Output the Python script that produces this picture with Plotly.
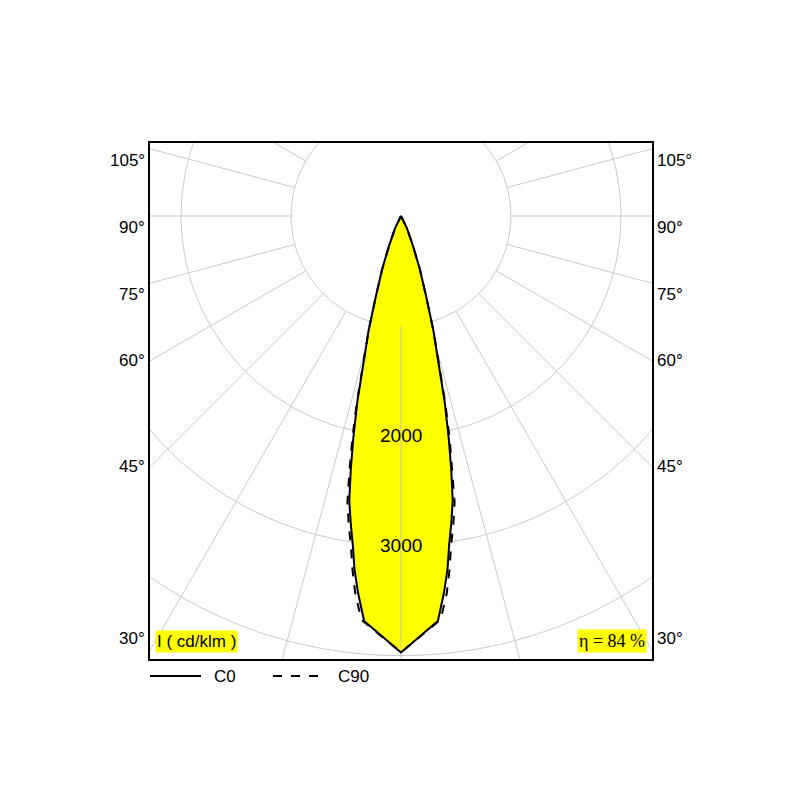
import numpy as np
import plotly.graph_objects as go

# Luminous intensity (cd/klm) vs angle (deg)
c0_angles = [0, 5.2, 6.5, 7.5, 8.3, 9.3, 10.3, 11.2, 12.1, 13.2, 14.2, 15.8, 17.4, 19.5, 21.8, 26, 90]
c0_values = [3970, 3700, 3450, 3240, 3030, 2830, 2630, 2350, 2070, 1740, 1410, 1080, 760, 510, 295, 120, 0]
c90_angles = [0, 5.6, 6.9, 7.8, 8.6, 9.6, 10.6, 11.4, 12.3, 13.3, 14.3, 15.8, 17.4, 19.5, 21.8, 26, 90]
c90_values = [3970, 3690, 3460, 3250, 3040, 2850, 2650, 2370, 2080, 1750, 1410, 1080, 760, 510, 295, 120, 0]
ring_values = [1000, 2000, 3000, 4000, 5000]
ring_labels = ["2000", "3000"]
angle_labels = [30, 45, 60, 75, 90, 105]

XR = 2282
YR = [-4030, 664]

def to_xy(ang, r, sign=1):
    a = np.radians(np.asarray(ang, float))
    r = np.asarray(r, float)
    return sign * r * np.sin(a), -r * np.cos(a)

def full_curve(ang, val):
    xr, yr = to_xy(ang, val, 1)
    xl, yl = to_xy(ang, val, -1)
    return np.concatenate([xr[::-1], xl[1:]]), np.concatenate([yr[::-1], yl[1:]])

fig = go.Figure()
grid = dict(color="#bbbbbb", width=0.8)
t = np.linspace(0, 2 * np.pi, 361)
for rv in ring_values:
    fig.add_trace(go.Scatter(x=rv * np.sin(t), y=rv * np.cos(t), mode="lines", line=grid, hoverinfo="skip", showlegend=False))
for deg in range(0, 360, 15):
    xs, ys = to_xy([deg, deg], [1000, 8000])
    fig.add_trace(go.Scatter(x=xs, y=ys, mode="lines", line=grid, hoverinfo="skip", showlegend=False))

x0, y0 = full_curve(c0_angles, c0_values)
fig.add_trace(go.Scatter(x=x0, y=y0, fill="toself", fillcolor="#ffff00", mode="lines", line=dict(width=0), showlegend=False))
fig.add_trace(go.Scatter(x=[0, 0], y=[-1000, -3970], mode="lines", line=grid, showlegend=False))
x9, y9 = full_curve(c90_angles, c90_values)
fig.add_trace(go.Scatter(x=x9, y=y9, mode="lines", line=dict(color="black", width=2, dash="dash"), showlegend=False))
fig.add_trace(go.Scatter(x=x0, y=y0, mode="lines", line=dict(color="black", width=2), showlegend=False))

def ypaper(v):
    return (v - YR[0]) / (YR[1] - YR[0])

ann = []
for lab in ring_labels:
    ann.append(dict(x=0, y=-float(lab), text=lab, showarrow=False, font=dict(size=19, color="black")))
for a in angle_labels:
    yv = -XR / np.tan(np.radians(a)) if a != 90 else 0
    if a == 30:
        yv = -3950
    for xp, xa in ((-0.006, "right"), (1.006, "left")):
        ann.append(dict(xref="paper", yref="paper", x=xp, y=ypaper(yv), text=f"{a}°", showarrow=False, xanchor=xa,
                        font=dict(size=17, color="black")))
ann.append(dict(xref="paper", yref="paper", x=0.01, y=0.012, xanchor="left", yanchor="bottom",
                text="I ( cd/klm )", showarrow=False, bgcolor="#ffff00", font=dict(size=17, color="black")))
ann.append(dict(xref="paper", yref="paper", x=0.99, y=0.012, xanchor="right", yanchor="bottom",
                text="η = 84 %", showarrow=False, bgcolor="#ffff00", font=dict(size=18, color="black", family="Liberation Serif")))
LY = -0.033
ann.append(dict(xref="paper", yref="paper", x=(211 - 149) / 502, y=LY, xanchor="left", yanchor="middle", text="C0", showarrow=False, font=dict(size=17, color="black")))
ann.append(dict(xref="paper", yref="paper", x=(335 - 149) / 502, y=LY, xanchor="left", yanchor="middle", text="C90", showarrow=False, font=dict(size=17, color="black")))

shapes = [
    dict(type="line", xref="paper", yref="paper", x0=0, x1=(200 - 149) / 502, y0=LY, y1=LY, line=dict(color="black", width=2)),
    dict(type="line", xref="paper", yref="paper", x0=(272 - 149) / 502, x1=(320 - 149) / 502, y0=LY, y1=LY, line=dict(color="black", width=2, dash="dash")),
]

ax = dict(showgrid=False, zeroline=False, showticklabels=False, ticks="", showline=True, mirror=True,
          linecolor="black", linewidth=2)
fig.update_layout(width=800, height=800, margin=dict(l=142, r=156, t=135, b=149, autoexpand=False),
                  plot_bgcolor="white", paper_bgcolor="white", font=dict(family="Liberation Sans"),
                  xaxis=dict(range=[-XR, XR], **ax), yaxis=dict(range=YR, **ax),
                  annotations=ann, shapes=shapes, showlegend=False)
fig.write_html("out.html")
